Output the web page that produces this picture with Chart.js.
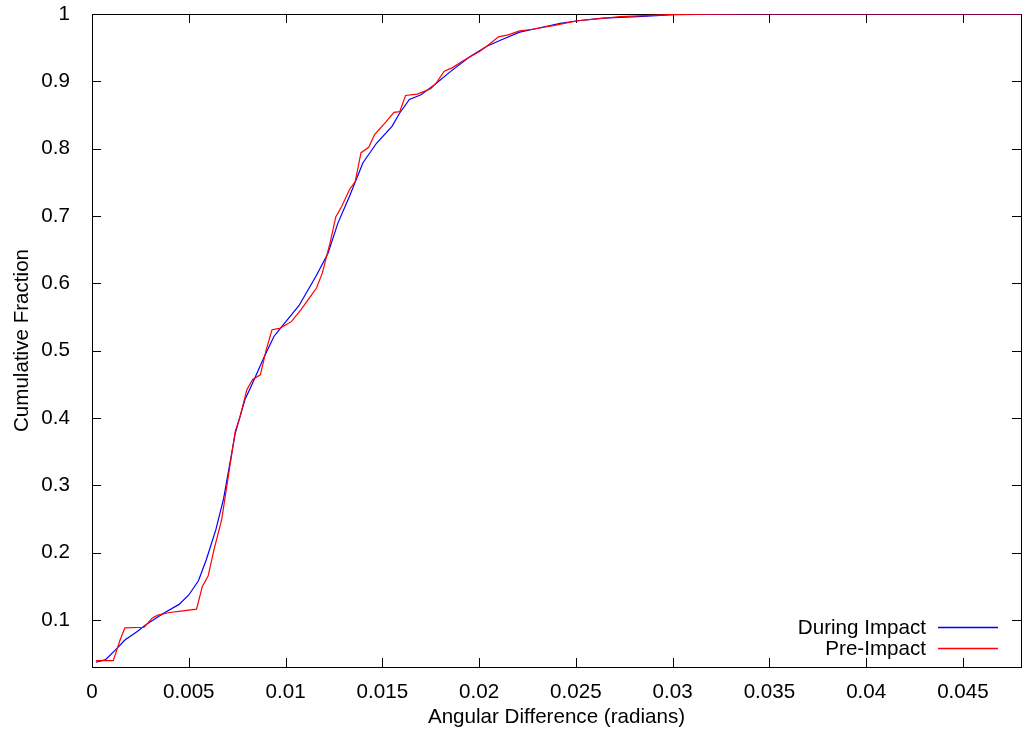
<!DOCTYPE html>
<html>
<head>
<meta charset="utf-8">
<script src="https://cdn.jsdelivr.net/npm/chart.js@4"></script>
<style>
  body { margin: 0; background: #fff; }
  #wrap { width: 1029px; height: 740px; position: relative; }
</style>
</head>
<body>
<div id="wrap"><canvas id="cdfChart"></canvas></div>
<script>
const seriesLabels = ['During Impact', 'Pre-Impact'];

// During Impact
const duringX = [0.0002, 0.0007, 0.0012, 0.0017, 0.0023, 0.0028, 0.0037, 0.0045, 0.005, 0.0055,
  0.0059, 0.0064, 0.0068, 0.0074, 0.0079, 0.0083, 0.0089, 0.0094, 0.0097, 0.0107,
  0.0116, 0.0122, 0.0127, 0.0133, 0.014, 0.0147, 0.0155, 0.0159, 0.0164, 0.017,
  0.0177, 0.0185, 0.0195, 0.0204, 0.0211, 0.0221, 0.0232, 0.0242, 0.0251, 0.0264,
  0.0282, 0.0301, 0.034, 0.048];
const duringY = [0.037, 0.041, 0.055, 0.070, 0.082, 0.093, 0.110, 0.123, 0.137, 0.158,
  0.189, 0.234, 0.280, 0.377, 0.427, 0.452, 0.491, 0.521, 0.532, 0.567,
  0.612, 0.645, 0.689, 0.729, 0.779, 0.808, 0.833, 0.853, 0.873, 0.880,
  0.895, 0.914, 0.936, 0.952, 0.961, 0.973, 0.980, 0.986, 0.990, 0.994,
  0.996, 0.999, 1, 1];

// Pre-Impact
const preX = [0.0002, 0.0011, 0.00145, 0.0017, 0.0027, 0.0031, 0.0034, 0.004, 0.0046, 0.0054,
  0.0057, 0.006, 0.0063, 0.0067, 0.0074, 0.00765, 0.008, 0.0083, 0.0087, 0.009,
  0.0093, 0.0097, 0.0103, 0.0108, 0.0114, 0.0116, 0.0119, 0.0123, 0.0126, 0.0129,
  0.0133, 0.0136, 0.0139, 0.0143, 0.0146, 0.0152, 0.0156, 0.0159, 0.0162, 0.0168,
  0.0175, 0.0178, 0.0182, 0.0186, 0.0192, 0.02, 0.0204, 0.021, 0.0215, 0.0221,
  0.0227, 0.0239, 0.0251, 0.0273, 0.0301, 0.034, 0.048];
const preY = [0.0395, 0.0395, 0.070, 0.088, 0.089, 0.1025, 0.107, 0.111, 0.113, 0.116,
  0.1495, 0.165, 0.204, 0.249, 0.380, 0.402, 0.442, 0.457, 0.464, 0.501,
  0.531, 0.533, 0.543, 0.561, 0.585, 0.593, 0.615, 0.660, 0.699, 0.714,
  0.739, 0.751, 0.794, 0.802, 0.821, 0.840, 0.854, 0.855, 0.879, 0.881,
  0.889, 0.898, 0.915, 0.920, 0.931, 0.944, 0.952, 0.966, 0.969, 0.975,
  0.977, 0.983, 0.990, 0.996, 0.9995, 1, 1];

const xTicks = [0, 0.005, 0.01, 0.015, 0.02, 0.025, 0.03, 0.035, 0.04, 0.045];
const yTicks = [0.1, 0.2, 0.3, 0.4, 0.5, 0.6, 0.7, 0.8, 0.9, 1];

const FONT = '"Liberation Sans", Arial, Helvetica, sans-serif';
const FSIZE = 20.6;

function toPoints(xs, ys) {
    return xs.map((x, i) => ({ x: x, y: ys[i] }));
}

// gnuplot style frame with inward ticks on all four sides
const framePlugin = {
    id: 'frame',
    beforeDatasetsDraw(chart) {
        const ctx = chart.ctx;
        const a = chart.chartArea;
        const xs = chart.scales.x, ys = chart.scales.y;
        const tl = 9;
        ctx.save();
        ctx.strokeStyle = '#000';
        ctx.lineWidth = 1;
        ctx.beginPath();
        xTicks.forEach(v => {
            const px = Math.round(xs.getPixelForValue(v)) + 0.5;
            ctx.moveTo(px, a.bottom); ctx.lineTo(px, a.bottom - tl);
            ctx.moveTo(px, a.top); ctx.lineTo(px, a.top + tl);
        });
        yTicks.forEach(v => {
            const py = Math.round(ys.getPixelForValue(v)) + 0.5;
            ctx.moveTo(a.left, py); ctx.lineTo(a.left + tl, py);
            ctx.moveTo(a.right, py); ctx.lineTo(a.right - tl, py);
        });
        ctx.stroke();
        ctx.strokeRect(Math.round(a.left) + 0.5, Math.round(a.top) + 0.5,
            Math.round(a.right - a.left), Math.round(a.bottom - a.top));
        ctx.restore();
    }
};

// legend in lower right corner: text then line sample
const legendPlugin = {
    id: 'cornerLegend',
    afterDatasetsDraw(chart) {
        const ctx = chart.ctx;
        const a = chart.chartArea;
        ctx.save();
        ctx.font = FSIZE + 'px ' + FONT;
        ctx.textAlign = 'right';
        ctx.textBaseline = 'middle';
        chart.data.datasets.forEach((ds, i) => {
            const y = Math.round(a.bottom - 40 + i * 21);
            ctx.fillStyle = '#000';
            ctx.fillText(ds.label, a.right - 95, y + 1);
            ctx.strokeStyle = ds.borderColor;
            ctx.lineWidth = 1.3;
            ctx.beginPath();
            ctx.moveTo(a.right - 83, y + 0.5);
            ctx.lineTo(a.right - 23, y + 0.5);
            ctx.stroke();
        });
        ctx.restore();
    }
};

const ctx = document.getElementById('cdfChart').getContext('2d');
new Chart(ctx, {
    type: 'scatter',
    data: {
        datasets: [{
            label: seriesLabels[0],
            data: toPoints(duringX, duringY),
            borderColor: 'rgb(0, 0, 255)',
            backgroundColor: 'rgb(0, 0, 255)',
            showLine: true,
            borderWidth: 1.2,
            pointRadius: 0,
            tension: 0,
            order: 1
        }, {
            label: seriesLabels[1],
            data: toPoints(preX, preY),
            borderColor: 'rgb(255, 0, 0)',
            backgroundColor: 'rgb(255, 0, 0)',
            showLine: true,
            borderWidth: 1.2,
            pointRadius: 0,
            tension: 0,
            order: 0
        }]
    },
    options: {
        responsive: true,
        maintainAspectRatio: false,
        animation: false,
        layout: { padding: { top: 14, right: 8, left: 0, bottom: 0 } },
        plugins: {
            legend: { display: false },
            tooltip: { enabled: false }
        },
        scales: {
            x: {
                type: 'linear',
                min: 0,
                max: 0.048,
                afterBuildTicks: scale => { scale.ticks = xTicks.map(v => ({ value: v })); },
                afterFit: scale => {
                    scale.height = 73;
                    scale.paddingLeft = 0;
                    scale.paddingRight = 0;
                },
                grid: { display: false },
                border: { display: false },
                ticks: {
                    color: '#000',
                    padding: 5,
                    maxRotation: 0,
                    autoSkip: false,
                    font: { family: FONT, size: FSIZE },
                    callback: v => String(+v.toFixed(3))
                },
                title: {
                    display: true,
                    text: 'Angular Difference (radians)',
                    color: '#000',
                    font: { family: FONT, size: FSIZE },
                    padding: { top: 4, bottom: 10 }
                }
            },
            y: {
                type: 'linear',
                min: 0.03,
                max: 1,
                afterBuildTicks: scale => { scale.ticks = yTicks.map(v => ({ value: v })); },
                afterFit: scale => {
                    scale.width = 92;
                    scale.paddingTop = 0;
                    scale.paddingBottom = 0;
                },
                grid: { display: false },
                border: { display: false },
                ticks: {
                    color: '#000',
                    padding: 14,
                    autoSkip: false,
                    font: { family: FONT, size: FSIZE },
                    callback: v => String(+v.toFixed(2))
                },
                title: {
                    display: true,
                    text: 'Cumulative Fraction',
                    color: '#000',
                    font: { family: FONT, size: FSIZE },
                    padding: { top: 10, bottom: 4 }
                }
            }
        }
    },
    plugins: [framePlugin, legendPlugin]
});
</script>
</body>
</html>
